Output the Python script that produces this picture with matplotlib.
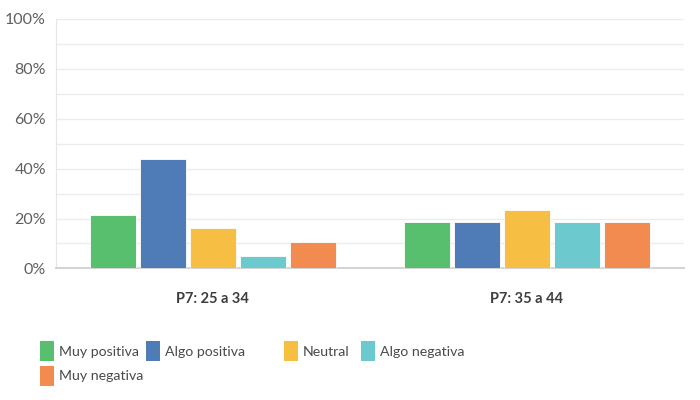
import matplotlib
matplotlib.use("Agg")
import matplotlib.pyplot as plt
import numpy as np
from matplotlib.patches import Rectangle

# data
groups = ["P7: 25 a 34", "P7: 35 a 44"]
series = ["Muy positiva", "Algo positiva", "Neutral", "Algo negativa", "Muy negativa"]
values = [
    [21.6, 18.6],   # Muy positiva
    [44.0, 18.6],   # Algo positiva
    [16.0, 23.6],   # Neutral
    [5.0, 18.6],    # Algo negativa
    [10.5, 18.6],   # Muy negativa
]
colors = ["#57bf6e", "#4f7bb6", "#f6be43", "#6cc9cd", "#f28b4f"]
yticks = [0, 20, 40, 60, 80, 100]

plt.rcParams["font.family"] = ["Lato", "DejaVu Sans"]

fig = plt.figure(figsize=(7, 4), dpi=100)
ax = fig.add_axes([0.0796, 0.329, 0.8975, 0.6235])

x = np.arange(len(groups))
step = 0.159
width = 0.147
for i, (name, vals) in enumerate(zip(series, values)):
    offs = (i - 2) * step
    ax.bar(x + offs, vals, width, color=colors[i], edgecolor="white",
           linewidth=0.6, zorder=3, label=name)

ax.set_xlim(-0.5, 1.5)
ax.set_ylim(0, 100)
ax.set_yticks(yticks)
ax.set_yticklabels([f"{t}%" for t in yticks], fontsize=11.5, color="#5f5f5f")
ax.set_yticks(np.arange(10, 100, 20), minor=True)
ax.tick_params(axis="y", which="both", length=0, pad=7)
ax.grid(axis="y", which="both", color="#ececec", linewidth=1.0, zorder=0)
ax.set_xticks(x)
ax.set_xticklabels(groups, fontsize=10.5, color="#3d3d3d", fontweight="bold")
ax.tick_params(axis="x", length=0, pad=17)

for s in ["top", "right"]:
    ax.spines[s].set_visible(False)
ax.spines["left"].set_color("#e6e6e6")
ax.spines["bottom"].set_color("#d4d4d4")
ax.spines["bottom"].set_linewidth(1.5)

# legend laid out like the original (4 + 1 rows)
leg_x = [40, 146, 284, 361, 40]
leg_y = [341, 341, 341, 341, 366]
for i, name in enumerate(series):
    px, py = leg_x[i], leg_y[i]
    fig.patches.append(Rectangle((px / 700, 1 - (py + 20) / 400), 14 / 700, 20 / 400,
                                 transform=fig.transFigure, facecolor=colors[i],
                                 edgecolor="none"))
    fig.text((px + 19) / 700, 1 - (py + 10.5) / 400, name, fontsize=10.2,
             color="#4a4a4a", va="center", ha="left")

fig.savefig("out.png", dpi=100, facecolor="white")
